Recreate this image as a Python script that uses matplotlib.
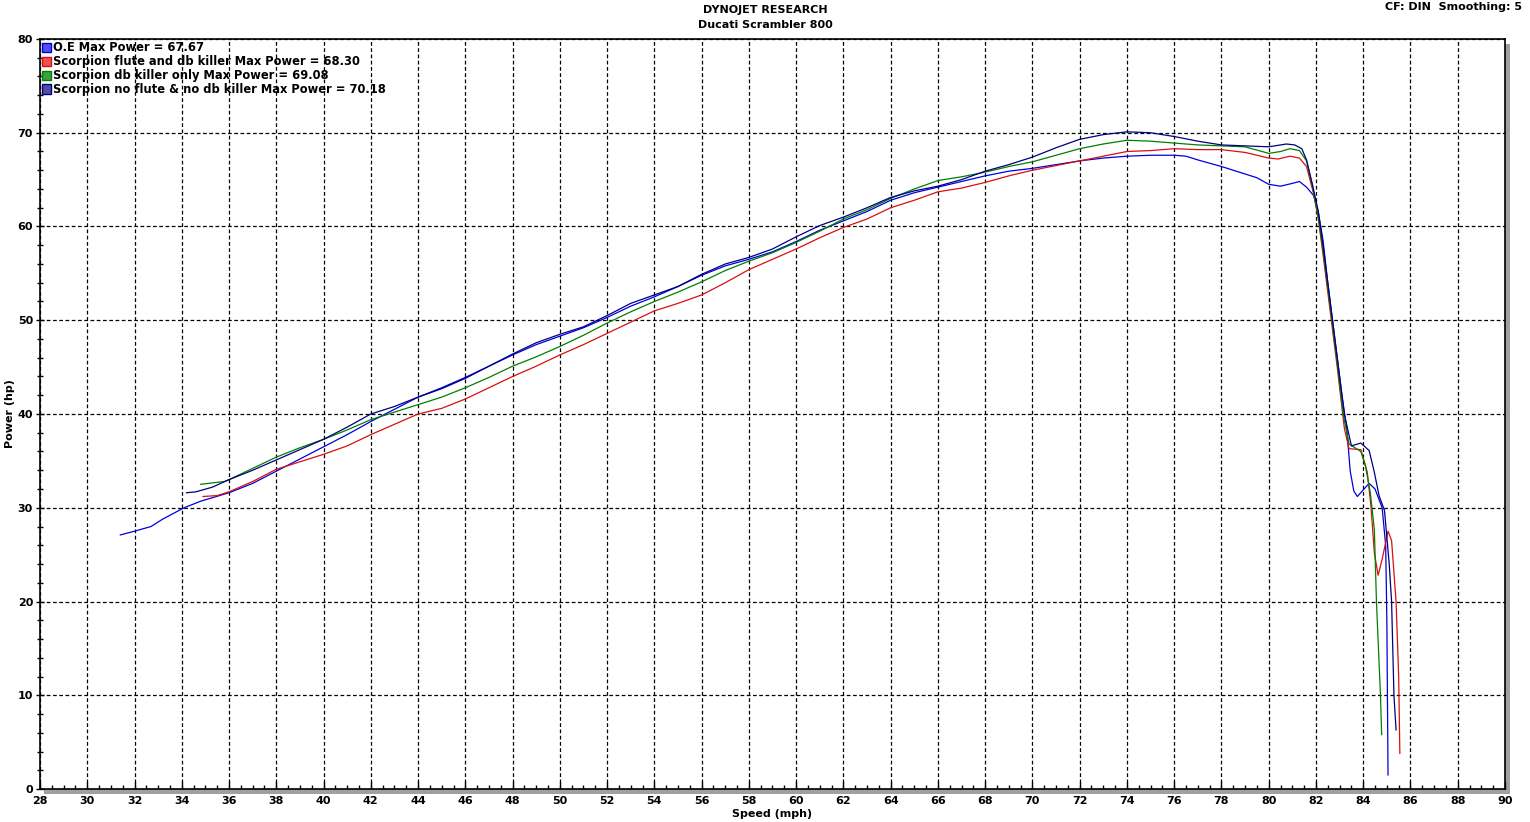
import matplotlib
matplotlib.use("Agg")
import matplotlib.pyplot as plt
from matplotlib.patches import Rectangle, Patch
from matplotlib.ticker import MultipleLocator

# --- data (speed mph, power hp) ---
oe_mph = [31.4, 32.0, 32.7, 33.2, 34.1, 34.8, 36.0, 37.0, 38.0, 39.0, 40.0, 41.0, 42.0, 43.0, 44.0,
          45.0, 46.0, 47.0, 48.0, 49.0, 50.0, 51.0, 52.0, 53.0, 54.0, 55.0, 56.0, 57.0, 58.0, 59.0,
          60.0, 61.0, 62.0, 63.0, 64.0, 65.0, 66.0, 67.0, 68.0, 69.0, 70.0, 71.0, 72.0, 73.0, 74.0,
          75.0, 76.0, 76.5, 77.0, 78.0, 79.0, 79.5, 80.0, 80.5, 81.0, 81.3, 81.6, 81.9, 82.1, 82.3,
          82.5, 82.8, 83.1, 83.3, 83.45, 83.6, 83.75, 84.0, 84.25, 84.5, 84.8, 84.95, 85.0, 85.03, 85.05]
oe_hp = [27.1, 27.5, 28.0, 28.8, 30.0, 30.7, 31.6, 32.6, 33.9, 35.2, 36.5, 37.8, 39.2, 40.5, 41.8,
         42.8, 43.9, 45.1, 46.3, 47.4, 48.3, 49.2, 50.3, 51.5, 52.5, 53.6, 54.8, 55.8, 56.5, 57.3,
         58.4, 59.6, 60.6, 61.6, 62.8, 63.6, 64.2, 64.8, 65.4, 65.9, 66.2, 66.6, 67.0, 67.3, 67.5,
         67.6, 67.6, 67.5, 67.1, 66.4, 65.6, 65.2, 64.5, 64.3, 64.6, 64.8, 64.2, 63.3, 61.5, 58.5,
         54.0, 48.0, 42.0, 38.5, 33.9, 31.8, 31.2, 31.9, 32.6, 32.0, 30.0, 26.0, 18.0, 8.0, 1.5]

flute_mph = [34.9, 35.5, 36.0, 37.0, 38.0, 39.0, 40.0, 41.0, 42.0, 43.0, 44.0, 45.0, 46.0, 47.0,
             48.0, 49.0, 50.0, 51.0, 52.0, 53.0, 54.0, 55.0, 56.0, 57.0, 58.0, 59.0, 60.0, 61.0,
             62.0, 63.0, 64.0, 65.0, 66.0, 67.0, 68.0, 69.0, 70.0, 71.0, 72.0, 73.0, 74.0, 75.0,
             76.0, 77.0, 78.0, 79.0, 80.0, 80.4, 80.9, 81.3, 81.6, 81.9, 82.1, 82.3, 82.6, 82.9,
             83.2, 83.4, 83.9, 84.17, 84.33, 84.47, 84.63, 84.8, 85.05, 85.2, 85.39, 85.5, 85.55]
flute_hp = [31.2, 31.3, 31.7, 32.8, 34.1, 34.9, 35.7, 36.6, 37.8, 38.9, 40.0, 40.6, 41.6, 42.8,
            44.0, 45.1, 46.3, 47.4, 48.6, 49.8, 51.0, 51.8, 52.7, 54.0, 55.4, 56.5, 57.6, 58.8,
            59.9, 60.8, 62.0, 62.8, 63.7, 64.1, 64.7, 65.4, 66.0, 66.5, 67.0, 67.5, 68.0, 68.1,
            68.3, 68.2, 68.2, 67.9, 67.3, 67.2, 67.5, 67.3, 66.4, 63.5, 60.8, 57.0, 51.0, 45.0,
            38.5, 36.3, 36.2, 33.8, 30.1, 25.2, 22.8, 24.5, 27.5, 26.5, 20.0, 12.0, 3.8]

dbk_mph = [34.8, 35.8, 36.0, 37.0, 38.0, 39.0, 40.0, 41.0, 42.0, 43.0, 44.0, 45.0, 46.0, 47.0,
           48.0, 49.0, 50.0, 51.0, 52.0, 53.0, 54.0, 55.0, 56.0, 57.0, 58.0, 59.0, 60.0, 61.0,
           62.0, 63.0, 64.0, 65.0, 66.0, 67.0, 68.0, 69.0, 70.0, 71.0, 72.0, 73.0, 74.0, 75.0,
           76.0, 77.0, 78.0, 79.0, 80.0, 80.5, 80.9, 81.3, 81.6, 81.85, 82.1, 82.3, 82.6, 82.9,
           83.15, 83.4, 83.9, 84.1, 84.3, 84.47, 84.56, 84.73, 84.78]
dbk_hp = [32.5, 32.8, 33.0, 34.2, 35.4, 36.4, 37.3, 38.3, 39.4, 40.2, 41.0, 41.8, 42.8, 43.9,
          45.1, 46.1, 47.2, 48.4, 49.7, 50.9, 52.0, 53.0, 54.1, 55.3, 56.3, 57.2, 58.3, 59.5,
          60.8, 61.8, 63.0, 64.0, 64.9, 65.3, 65.8, 66.4, 66.9, 67.6, 68.3, 68.8, 69.2, 69.1,
          68.9, 68.7, 68.6, 68.5, 67.8, 68.0, 68.3, 68.1, 67.0, 64.3, 61.0, 57.5, 51.5, 45.5,
          40.0, 36.8, 36.0, 34.4, 31.6, 27.7, 20.0, 10.0, 5.8]

open_mph = [34.2, 34.6, 35.3, 36.0, 37.0, 38.0, 39.0, 40.0, 41.0, 42.0, 43.0, 44.0, 45.0, 46.0,
            47.0, 48.0, 49.0, 50.0, 51.0, 52.0, 53.0, 54.0, 55.0, 56.0, 57.0, 58.0, 59.0, 60.0,
            61.0, 62.0, 63.0, 64.0, 65.0, 66.0, 67.0, 68.0, 69.0, 70.0, 71.0, 72.0, 73.0, 74.0,
            75.0, 76.0, 77.0, 78.0, 79.0, 80.0, 80.75, 81.1, 81.4, 81.6, 81.85, 82.1, 82.3, 82.6,
            82.9, 83.2, 83.5, 83.9, 84.25, 84.46, 84.67, 84.9, 85.1, 85.2, 85.3, 85.39]
open_hp = [31.6, 31.7, 32.2, 33.0, 34.0, 35.1, 36.2, 37.3, 38.6, 40.0, 40.8, 41.8, 42.7, 43.8,
           45.1, 46.4, 47.6, 48.5, 49.3, 50.5, 51.8, 52.7, 53.6, 54.9, 56.0, 56.7, 57.6, 58.9,
           60.1, 61.0, 62.0, 63.1, 63.8, 64.3, 65.0, 65.9, 66.6, 67.4, 68.4, 69.3, 69.8, 70.1,
           70.0, 69.6, 69.1, 68.7, 68.6, 68.5, 68.8, 68.7, 68.3, 67.1, 64.5, 61.6, 58.0, 52.0,
           46.0, 40.0, 36.6, 36.9, 36.1, 33.9, 31.3, 29.7, 24.0, 20.0, 10.0, 6.3]

labels = ["O.E Max Power = 67.67",
          "Scorpion flute and db killer Max Power = 68.30",
          "Scorpion db killer only Max Power = 69.08",
          "Scorpion no flute & no db killer Max Power = 70.18"]
colors = ["#0000E0", "#D81010", "#008000", "#000080"]
swatch = ["#5050F0", "#F05050", "#40A040", "#5050A0"]

plt.rcParams['font.family'] = 'DejaVu Sans'
plt.rcParams['font.weight'] = 'bold'

fig = plt.figure(figsize=(15.3, 8.22), dpi=100)
ax = fig.add_axes([40 / 1530, 33 / 822, 1465 / 1530, 750 / 822])
ax.set_facecolor("white")

# drop shadow under the plot frame
fig.patches.append(Rectangle((44 / 1530, 28 / 822), 1466 / 1530, 750 / 822,
                             transform=fig.transFigure, facecolor="#a0a0a0",
                             edgecolor="none", zorder=-1))

series = [(oe_mph, oe_hp), (flute_mph, flute_hp), (dbk_mph, dbk_hp), (open_mph, open_hp)]
for (xs, ys), c in zip(series, colors):
    ax.plot(xs, ys, color=c, lw=0.9, zorder=3)

ax.set_xlim(28, 90)
ax.set_ylim(0, 80)
ax.xaxis.set_major_locator(MultipleLocator(2))
ax.xaxis.set_minor_locator(MultipleLocator(0.5))
ax.yaxis.set_major_locator(MultipleLocator(10))
ax.yaxis.set_minor_locator(MultipleLocator(2))
ax.grid(True, which="major", color="black", linestyle=(0, (3, 2)), lw=0.9, zorder=1)
ax.tick_params(axis="x", which="major", direction="in", length=5, width=1, labelsize=8, pad=5)
ax.tick_params(axis="x", which="minor", direction="in", length=3, width=1)
ax.tick_params(axis="y", which="major", direction="inout", length=6, width=1, labelsize=8, pad=2)
ax.tick_params(axis="y", which="minor", direction="inout", length=4, width=1)
for s in ax.spines.values():
    s.set_linewidth(1.2)

ax.set_xlabel("Speed (mph)", fontsize=8, fontweight="bold", labelpad=2)
ax.set_ylabel("Power (hp)", fontsize=8, fontweight="bold", labelpad=2)

handles = [Patch(facecolor=s, edgecolor=c, lw=1.0) for s, c in zip(swatch, colors)]
ax.legend(handles, labels, loc="upper left", bbox_to_anchor=(0.0, 1.0), frameon=False,
          handlelength=0.75, handleheight=0.85, handletextpad=0.2,
          labelspacing=0.08, borderaxespad=0.1, borderpad=0.1, prop={"weight": "bold", "size": 8.3})

fig.text(0.5, 1 - 10 / 822, "DYNOJET RESEARCH", ha="center", va="center", fontsize=8, fontweight="bold")
fig.text(0.5, 1 - 25 / 822, "Ducati Scrambler 800", ha="center", va="center", fontsize=8, fontweight="bold")
fig.text(1522 / 1530, 1 - 7 / 822, "CF: DIN  Smoothing: 5", ha="right", va="center", fontsize=8, fontweight="bold")

fig.savefig("out.png", dpi=100)
